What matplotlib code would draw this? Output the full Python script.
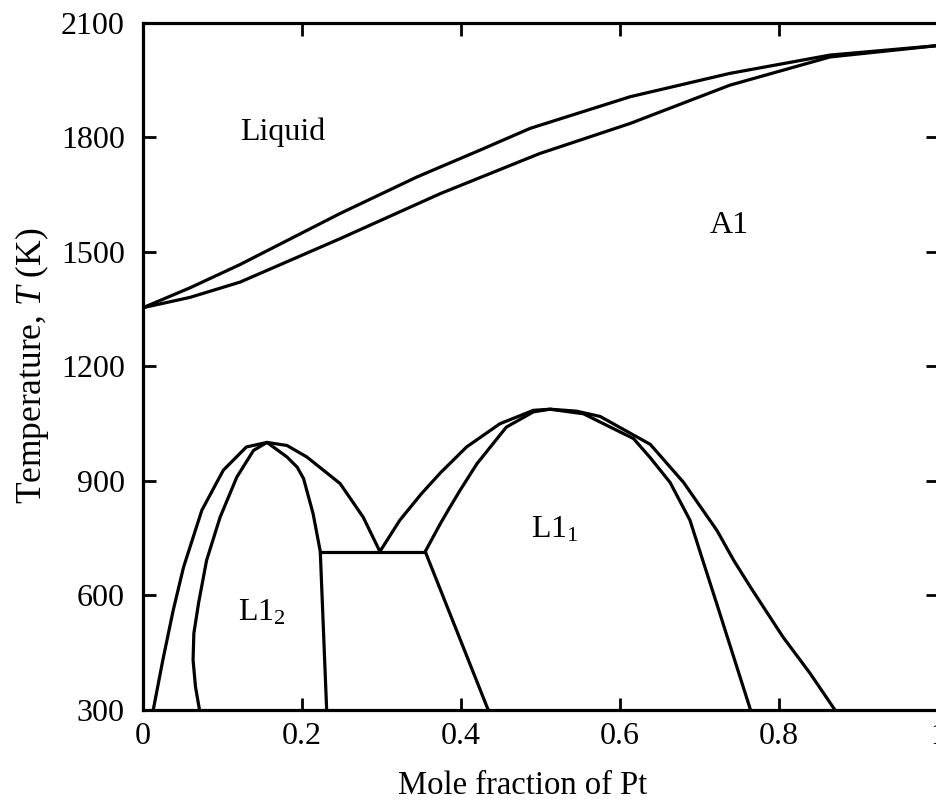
import matplotlib
matplotlib.use("Agg")
import matplotlib.pyplot as plt

# Fonts: Times-like serif, italic T in the axis label.
plt.rcParams['font.family'] = ['Liberation Serif', 'DejaVu Serif']
plt.rcParams['mathtext.fontset'] = 'custom'
plt.rcParams['mathtext.rm'] = 'Liberation Serif'
plt.rcParams['mathtext.it'] = 'Liberation Serif:italic'

# Liquidus / solidus (upper two-phase band).
liq_x = [0.0, 0.059, 0.122, 0.248, 0.345, 0.424, 0.487, 0.613, 0.738, 0.864, 1.0]
liq_T = [1353, 1405, 1466, 1600, 1696, 1766, 1823, 1906, 1967, 2015, 2040]
sol_x = [0.0, 0.059, 0.122, 0.248, 0.374, 0.499, 0.613, 0.738, 0.864, 1.0]
sol_T = [1353, 1380, 1420, 1534, 1652, 1757, 1836, 1936, 2010, 2040]

# A1 boundary around L1_2 dome.
a1_l12_x = [0.013, 0.025, 0.038, 0.051, 0.074, 0.101, 0.130, 0.156, 0.181, 0.206,
            0.248, 0.277, 0.298]
a1_l12_T = [300, 430, 560, 673, 822, 927, 988, 1000, 992, 962,
            892, 804, 714]

# L1_2 phase boundary.
l12_x = [0.071, 0.066, 0.063, 0.064, 0.070, 0.080, 0.097, 0.118, 0.139, 0.156,
         0.181, 0.194, 0.202, 0.214, 0.223, 0.231]
l12_T = [300, 360, 430, 500, 580, 691, 804, 909, 979, 1000,
         962, 935, 905, 813, 714, 300]

# Eutectoid horizontal.
eut_x = [0.223, 0.355]
eut_T = [714, 714]

# A1 boundary around L1_1 dome.
a1_l11_x = [0.298, 0.323, 0.350, 0.374, 0.407, 0.449, 0.491, 0.512, 0.545, 0.575,
            0.638, 0.680, 0.722, 0.743, 0.764, 0.805, 0.839, 0.870]
a1_l11_T = [714, 796, 865, 920, 988, 1049, 1084, 1087, 1082, 1068,
            995, 895, 769, 691, 621, 490, 395, 300]

# L1_1 phase boundary.
l11_x = [0.434, 0.355, 0.374, 0.386, 0.399, 0.420, 0.457, 0.491, 0.512, 0.554,
         0.617, 0.638, 0.663, 0.688, 0.705, 0.722, 0.764]
l11_T = [300, 714, 787, 830, 875, 944, 1040, 1080, 1087, 1075,
         1010, 960, 895, 796, 685, 575, 300]

x_ticks = [0, 0.2, 0.4, 0.6, 0.8, 1.0]
x_ticklabels = ["0", "0.2", "0.4", "0.6", "0.8", "1"]
y_ticks = [300, 600, 900, 1200, 1500, 1800, 2100]

fig = plt.figure(figsize=(9.37, 8.06), dpi=100)
ax = fig.add_axes([0.1526, 0.1197, 0.8485, 0.8522])

lw = 2.3
for xs, ts in [(liq_x, liq_T), (sol_x, sol_T), (a1_l12_x, a1_l12_T),
               (l12_x, l12_T), (eut_x, eut_T), (a1_l11_x, a1_l11_T),
               (l11_x, l11_T)]:
    ax.plot(xs, ts, color="black", lw=lw, solid_joinstyle="round")

ax.set_xlim(0, 1)
ax.set_ylim(300, 2100)
ax.set_xticks(x_ticks)
ax.set_xticklabels(x_ticklabels)
ax.set_yticks(y_ticks)
ax.tick_params(direction="in", top=True, right=True, length=9, width=2,
               labelsize=23)
ax.tick_params(axis="y", pad=13)
ax.tick_params(axis="x", pad=9)
for s in ax.spines.values():
    s.set_linewidth(2.3)

ax.set_xlabel("Mole fraction of Pt", fontsize=23.5, labelpad=14, x=0.478)
ax.set_ylabel("Temperature, $T$ (K)", fontsize=25.5, labelpad=7)

ax.text(0.176, 1813, "Liquid", fontsize=23, ha="center", va="center")
ax.text(0.738, 1569, "A1", fontsize=23, ha="center", va="center")
ax.text(0.150, 554, "L1$_2$", fontsize=23, ha="center", va="center")
ax.text(0.518, 770, "L1$_1$", fontsize=23, ha="center", va="center")

fig.savefig("out.png", dpi=100)
